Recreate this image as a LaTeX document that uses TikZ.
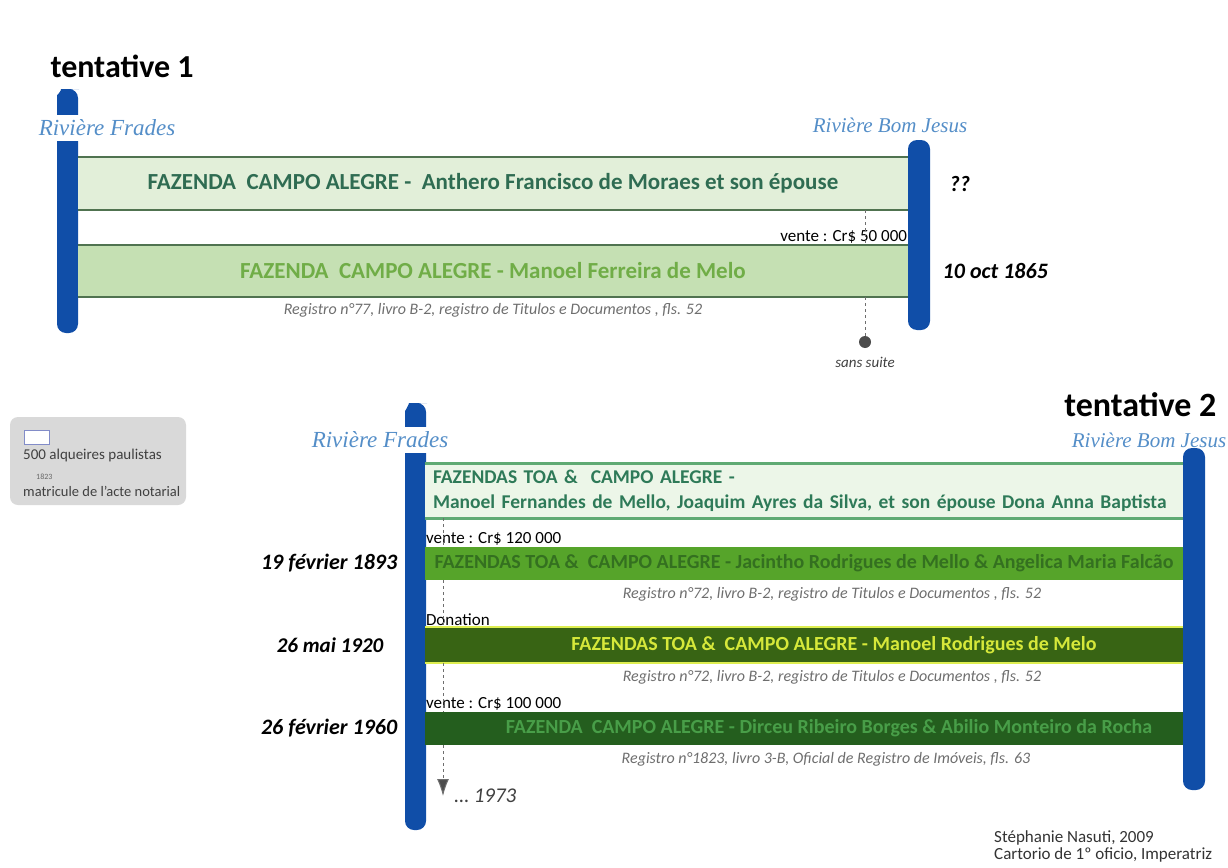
\documentclass[tikz,border=0pt]{standalone}
\usepackage{fontspec}
\setmainfont{Carlito}
\newfontfamily\riverfont{Liberation Serif}
\usetikzlibrary{positioning,arrows.meta}

\definecolor{riverblue}{RGB}{16,78,168}
\definecolor{rivertext}{RGB}{84,142,200}
\definecolor{greyline}{RGB}{110,110,110}

\begin{document}
\begin{tikzpicture}[
x=1pt,y=-1pt,
river/.style={
  fill=riverblue,
  rounded corners=9pt
  },
rivername/.style={
  font=\riverfont\itshape\fontsize{23}{25}\selectfont,
  text=rivertext,
  fill=white,
  inner xsep=1pt,
  inner ysep=5pt
  },
band/.style={
  minimum width=#1,
  inner sep=0pt,
  font=\bfseries\fontsize{23}{26}\selectfont
  },
title/.style={font=\bfseries\fontsize{32}{36}\selectfont},
date/.style={font=\bfseries\itshape\fontsize{22}{24}\selectfont},
note/.style={font=\fontsize{17}{19}\selectfont, inner sep=1pt},
reg/.style={font=\itshape\fontsize{16}{18}\selectfont, text=greyline},
sale/.style={dashed, draw=greyline, line width=1pt}
]
\useasboundingbox (0,0) rectangle (1228,867);

% tentative 1
\node[title, anchor=west] (t1) at (47,66) {tentative 1};
\fill[river] (57,104) to[out=90,in=180] (70,89) -- (78,89) -- (78,333) -- (57,333) -- cycle;
\fill[river] (908,140) rectangle (930,330);
\node[rivername] (r1) at (107,128) {Rivière Frades};
\node[rivername, font=\riverfont\itshape\fontsize{21}{23}\selectfont] (r2) at (890,125) {Rivière Bom Jesus};

\node[band=830pt, minimum height=53pt, fill={rgb,255:red,226;green,239;blue,217}, text={rgb,255:red,47;green,108;blue,82}]
  (f1) at (493,183.5) {FAZENDA\ \ CAMPO ALEGRE -\ \ Anthero Francisco de Moraes et son épouse};
\node[band=830pt, minimum height=52pt, fill={rgb,255:red,197;green,224;blue,179}, text={rgb,255:red,112;green,173;blue,71}]
  (f2) at (493,271) {FAZENDA\ \ CAMPO ALEGRE - Manoel Ferreira de Melo};
\foreach \Bar in {f1,f2}
  \draw[line width=2pt, draw={rgb,255:red,80;green,115;blue,80}]
    (\Bar.north west) -- (\Bar.north east) (\Bar.south west) -- (\Bar.south east);

\node[date, right=38pt of f1.east] (d1) {??};
\node[date, right=31pt of f2.east] (d2) {10 oct 1865};
\node[note, anchor=south east] (v1) at (f2.north east) {vente : Cr\$ 50 000};
\node[reg, below=3pt of f2] (g1) {Registro n°77, livro B-2, registro de Titulos e Documentos , fls. 52};

\node[circle, fill=black!70, minimum size=12pt, inner sep=0pt] (fin) at (865,342) {};
\node[reg, text=black!75, font=\itshape\fontsize{15}{17}\selectfont, below=5pt of fin] (s1) {sans suite};
\draw[sale] (f1.south -| fin) -- (f2.north -| fin);
\draw[sale] (f2.south -| fin) -- (fin);

% legende
\node[fill={rgb,255:red,217;green,217;blue,217}, rounded corners=8pt, minimum width=176pt, minimum height=88pt] (leg) at (98,461) {};
\node[draw={rgb,255:red,130;green,140;blue,200}, fill=white, minimum width=25pt, minimum height=14pt, inner sep=0pt] (carre) at (37,437) {};
\node[note, anchor=north west, text=black!75, font=\fontsize{15}{17}\selectfont] (l1) at (22,448) {500 alqueires paulistas};
\node[note, anchor=north west, text=black!60, font=\fontsize{8}{9}\selectfont] (l2) at (35,473) {1823};
\node[note, anchor=north west, text=black!75, font=\fontsize{14.5}{17}\selectfont] (l3) at (22,485) {matricule de l'acte notarial};

% tentative 2
\node[title, anchor=east, font=\bfseries\fontsize{34}{38}\selectfont] (t2) at (1220,405) {tentative 2};
\fill[river] (405,420) to[out=90,in=180] (418,403) -- (426,403) -- (426,830) -- (405,830) -- cycle;
\fill[river] (1183,448) rectangle (1205,790);
\node[rivername] (r3) at (380,440) {Rivière Frades};
\node[rivername, fill=none, font=\riverfont\itshape\fontsize{21}{23}\selectfont] (r4) at (1149,440) {Rivière Bom Jesus};

\node[band=758pt, minimum height=54pt, fill={rgb,255:red,236;green,246;blue,232}, text={rgb,255:red,46;green,122;blue,88}, font=\bfseries\fontsize{19.5}{25}\selectfont, align=left, text width=742pt]
  (fa) at (804,491) {FAZENDAS TOA \&\ \ CAMPO ALEGRE -\\Manoel Fernandes de Mello, Joaquim Ayres da Silva, et son épouse Dona Anna Baptista};
\draw[line width=3pt, draw={rgb,255:red,95;green,170;blue,115}]
  (fa.north west) -- (fa.north east) (fa.south west) -- (fa.south east);
\node[band=758pt, minimum height=33pt, fill={rgb,255:red,86;green,164;blue,42}, text={rgb,255:red,52;green,112;blue,32}, font=\bfseries\fontsize{20}{22}\selectfont]
  (fb) at (804,563.5) {FAZENDAS TOA \&\ \ CAMPO ALEGRE - Jacintho Rodrigues de Mello \& Angelica Maria Falcão};
\node[band=758pt, minimum height=36pt, fill={rgb,255:red,56;green,100;blue,20}, text={rgb,255:red,214;green,232;blue,58}, font=\bfseries\fontsize{20}{22}\selectfont]
  (fc) at (804,645) {\hspace{60pt}FAZENDAS TOA \&\ \ CAMPO ALEGRE - Manoel Rodrigues de Melo};
\draw[line width=2.5pt, draw={rgb,255:red,222;green,238;blue,80}]
  (fc.north west) -- (fc.north east) (fc.south west) -- (fc.south east);
\node[band=758pt, minimum height=33pt, fill={rgb,255:red,36;green,94;blue,30}, text={rgb,255:red,72;green,158;blue,72}, font=\bfseries\fontsize{20}{22}\selectfont]
  (fd) at (804,728.5) {\hspace{50pt}FAZENDA\ \ CAMPO ALEGRE - Dirceu Ribeiro Borges \& Abilio Monteiro da Rocha};

\node[date, left=24pt of fb.west] (d3) {19 février 1893};
\node[date, left=38pt of fc.west, font=\bfseries\itshape\fontsize{21}{24}\selectfont] (d4) {26 mai 1920};
\node[date, left=24pt of fd.west] (d5) {26 février 1960};

\node[note, anchor=south west] (v2) at (fb.north west) {vente : Cr\$ 120 000};
\node[note, anchor=south west] (v3) at (fc.north west) {Donation};
\node[note, anchor=south west] (v4) at (fd.north west) {vente : Cr\$ 100 000};

\node[reg, below=4pt of fb, xshift=28pt] (g2) {Registro n°72, livro B-2, registro de Titulos e Documentos , fls. 52};
\node[reg, below=4pt of fc, xshift=28pt] (g3) {Registro n°72, livro B-2, registro de Titulos e Documentos , fls. 52};
\node[reg, below=4pt of fd, xshift=22pt] (g4) {Registro n°1823, livro 3-B, Oficial de Registro de Imóveis, fls. 63};

\coordinate (suite) at (443,796);
\node[font=\itshape\fontsize{21}{23}\selectfont, text=black!75, right=8pt of suite] (an) {\dots\ 1973};
\draw[sale] (fa.south -| suite) -- (fb.north -| suite);
\draw[sale] (fb.south -| suite) -- (fc.north -| suite);
\draw[sale] (fc.south -| suite) -- (fd.north -| suite);
\draw[sale, -{Latex[length=17pt,width=12pt,fill=black!70]}] (fd.south -| suite) -- (suite);

\node[note, anchor=north west, align=left, text=black!80, font=\fontsize{17}{17}\selectfont] (auteur) at (993,829)
  {Stéphanie Nasuti, 2009\\Cartorio de 1º oficio, Imperatriz};
\end{tikzpicture}
\end{document}
